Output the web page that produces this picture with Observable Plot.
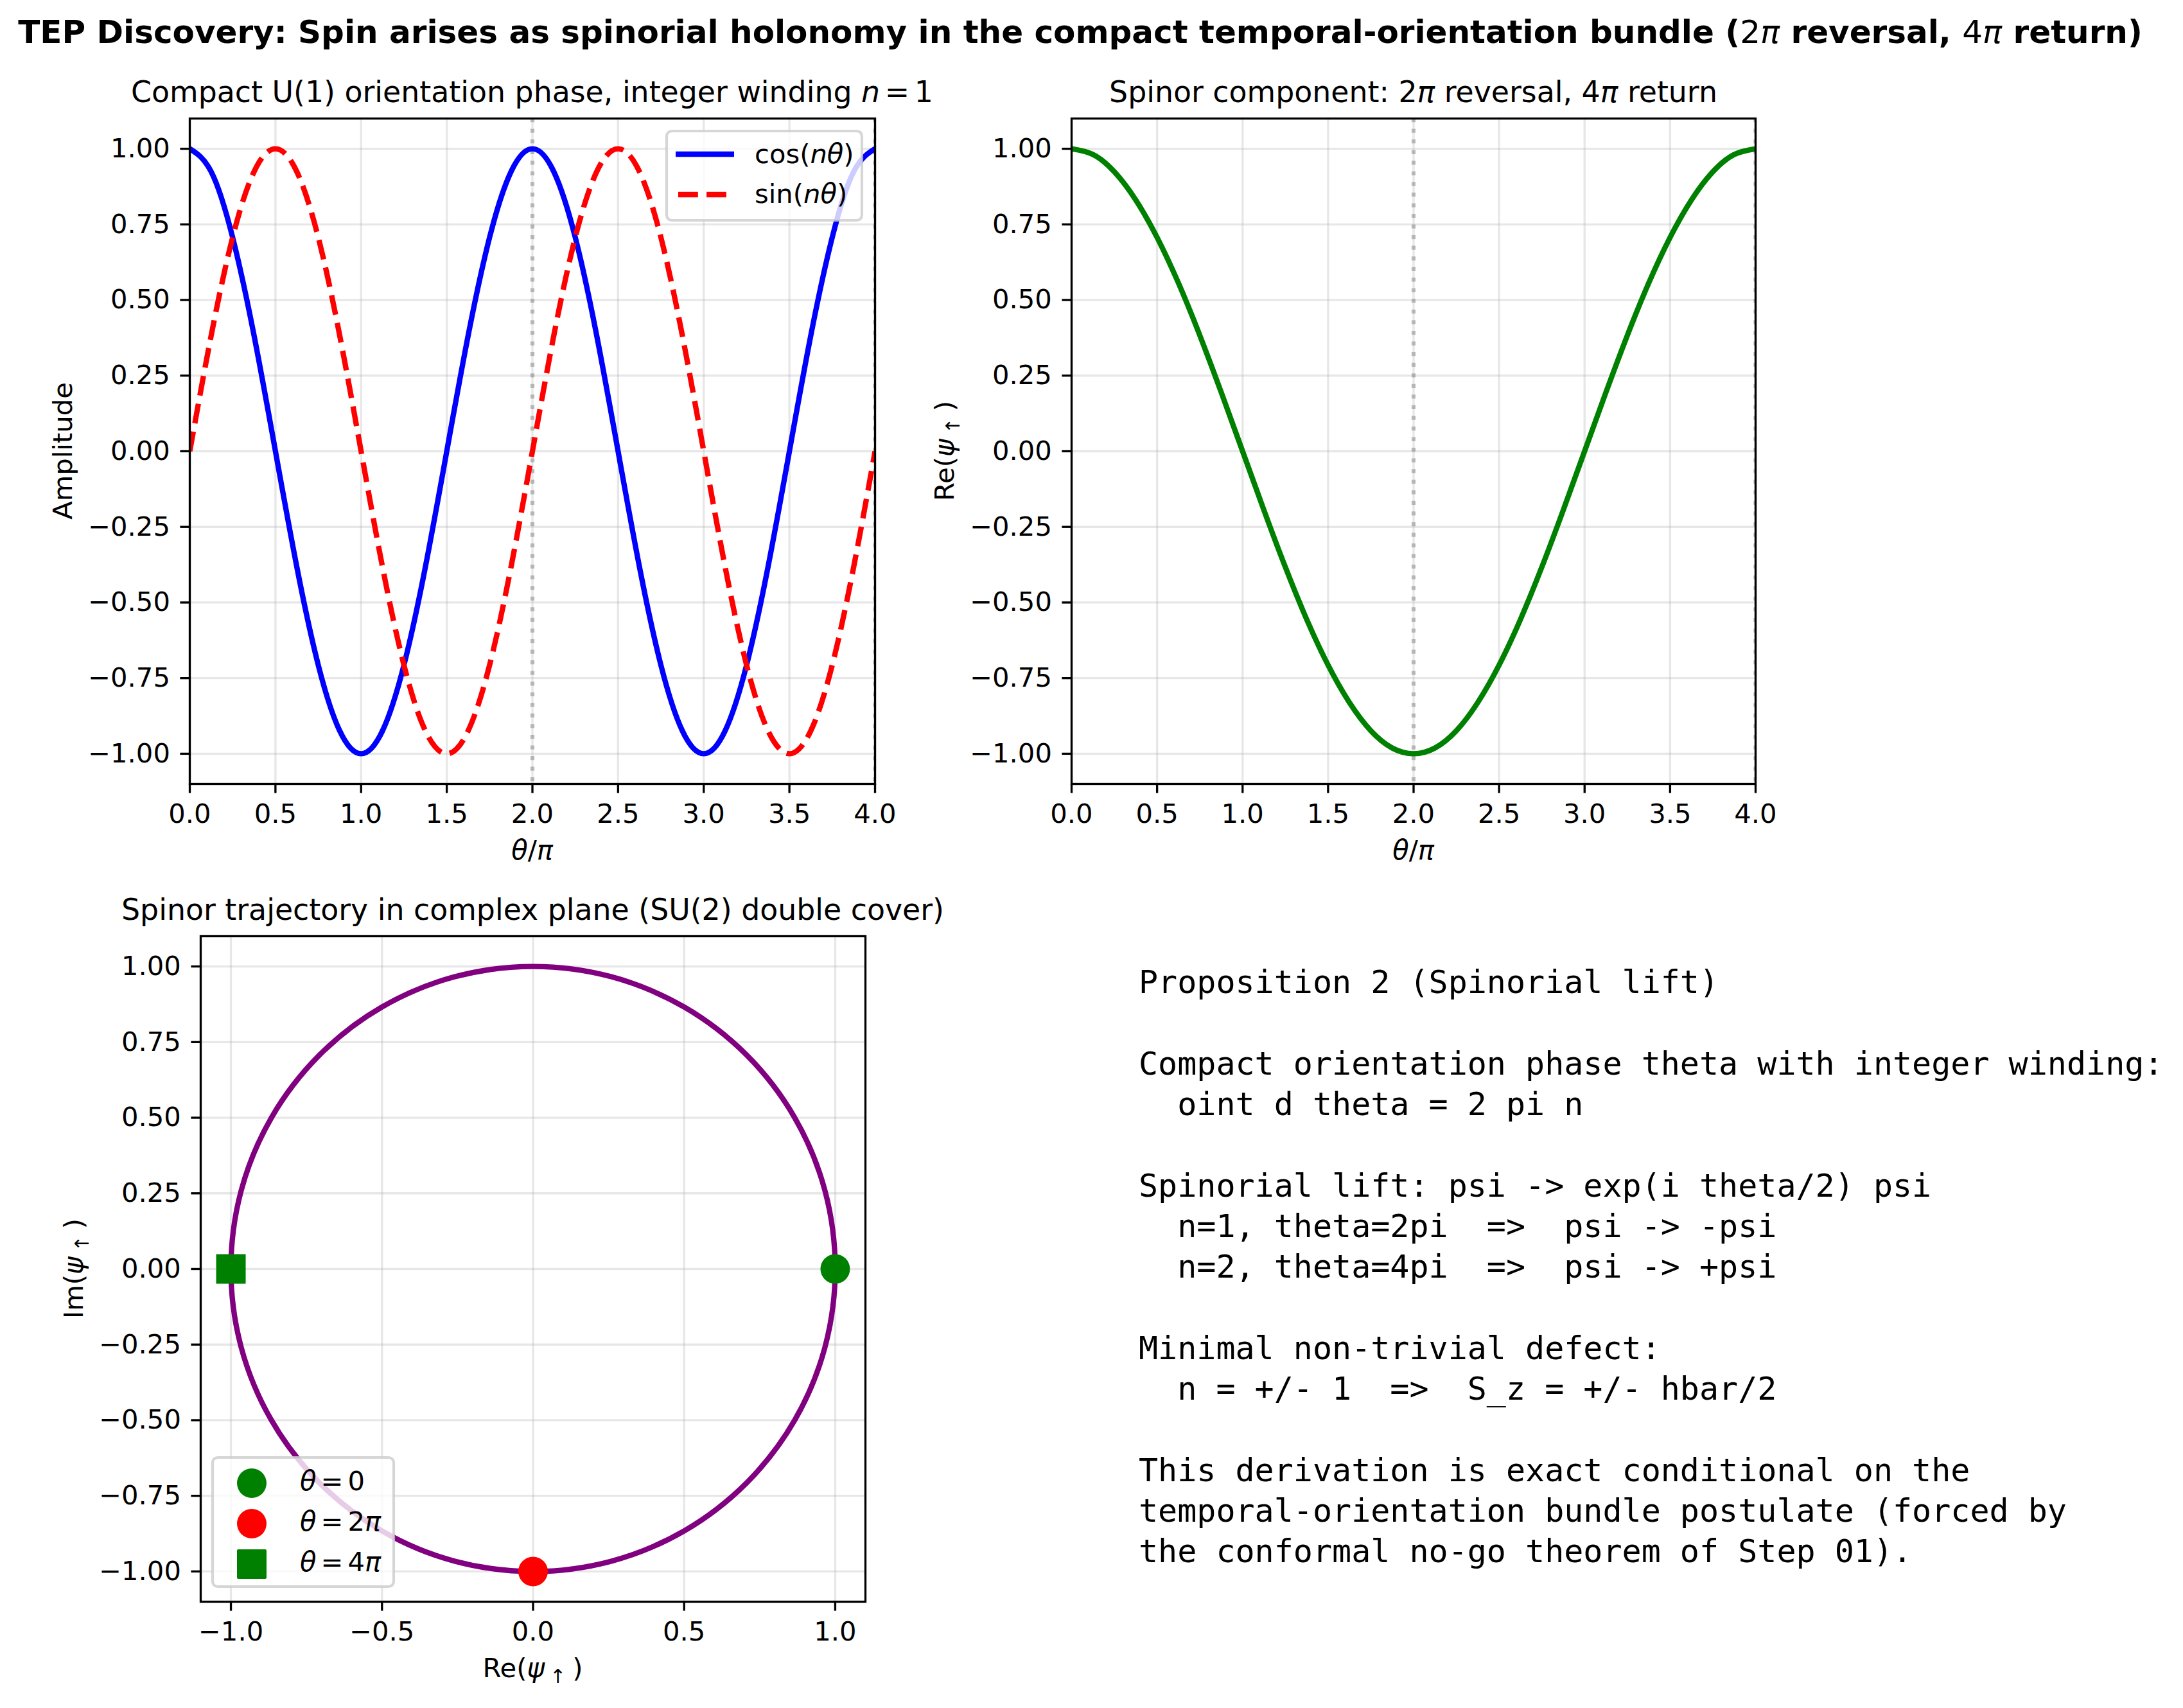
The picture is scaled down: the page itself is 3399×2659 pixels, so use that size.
<!DOCTYPE html>
<html>
<head>
<meta charset="utf-8">
<script src="https://cdn.jsdelivr.net/npm/d3@7"></script>
<script src="https://cdn.jsdelivr.net/npm/@observablehq/plot@0.6"></script>
<style>
html, body { margin: 0; padding: 0; background: #fff; }
#page { position: relative; width: 3399px; height: 2659px; background: #fff; overflow: hidden; }
#page svg { position: absolute; }
</style>
</head>
<body>
<div id="page"></div>
<script>
// ---------------- data ----------------
const thetaOverPi = [0, 0.125, 0.25, 0.375, 0.5, 0.625, 0.75, 0.875, 1, 1.125, 1.25, 1.375, 1.5, 1.625, 1.75, 1.875,
  2, 2.125, 2.25, 2.375, 2.5, 2.625, 2.75, 2.875, 3, 3.125, 3.25, 3.375, 3.5, 3.625, 3.75, 3.875, 4];
const cosNTheta = [1, 0.924, 0.707, 0.383, 0, -0.383, -0.707, -0.924, -1, -0.924, -0.707, -0.383, 0, 0.383, 0.707, 0.924,
  1, 0.924, 0.707, 0.383, 0, -0.383, -0.707, -0.924, -1, -0.924, -0.707, -0.383, 0, 0.383, 0.707, 0.924, 1];
const sinNTheta = [0, 0.383, 0.707, 0.924, 1, 0.924, 0.707, 0.383, 0, -0.383, -0.707, -0.924, -1, -0.924, -0.707, -0.383,
  0, 0.383, 0.707, 0.924, 1, 0.924, 0.707, 0.383, 0, -0.383, -0.707, -0.924, -1, -0.924, -0.707, -0.383, 0];
const spinorRe = [1, 0.981, 0.924, 0.831, 0.707, 0.556, 0.383, 0.195, 0, -0.195, -0.383, -0.556, -0.707, -0.831, -0.924, -0.981,
  -1, -0.981, -0.924, -0.831, -0.707, -0.556, -0.383, -0.195, 0, 0.195, 0.383, 0.556, 0.707, 0.831, 0.924, 0.981, 1];
const trajRe = [1, 0.966, 0.866, 0.707, 0.5, 0.259, 0, -0.259, -0.5, -0.707, -0.866, -0.966,
  -1, -0.966, -0.866, -0.707, -0.5, -0.259, 0, 0.259, 0.5, 0.707, 0.866, 0.966];
const trajIm = [0, 0.259, 0.5, 0.707, 0.866, 0.966, 1, 0.966, 0.866, 0.707, 0.5, 0.259,
  0, -0.259, -0.5, -0.707, -0.866, -0.966, -1, -0.966, -0.866, -0.707, -0.5, -0.259];
const markerRe = [1, 0, -1];
const markerIm = [0, -1, 0];
const markerColors = ["green", "red", "green"];
const markerShapes = ["circle", "circle", "square"];
const markerLabelValues = ["0", "2", "4"];
const markerLabelPi = [false, true, true];
const holonomyLines = [2, 4];
const thetaTicks = [0, 0.5, 1, 1.5, 2, 2.5, 3, 3.5, 4];
const ampTicks = [-1, -0.75, -0.5, -0.25, 0, 0.25, 0.5, 0.75, 1];
const reTicks = [-1, -0.5, 0, 0.5, 1];
const textLines = [
  "Proposition 2 (Spinorial lift)",
  "",
  "Compact orientation phase theta with integer winding:",
  "  oint d theta = 2 pi n",
  "",
  "Spinorial lift: psi -> exp(i theta/2) psi",
  "  n=1, theta=2pi  =>  psi -> -psi",
  "  n=2, theta=4pi  =>  psi -> +psi",
  "",
  "Minimal non-trivial defect:",
  "  n = +/- 1  =>  S_z = +/- hbar/2",
  "",
  "This derivation is exact conditional on the",
  "temporal-orientation bundle postulate (forced by",
  "the conformal no-go theorem of Step 01)."
];

// ---------------- styling constants ----------------
const LW = 8.33, SPINE = 3.33, FS = 41.7;
const TS = "\u2006"; // thin math space
const gridStyle = {stroke: "#b0b0b0", strokeOpacity: 0.3, strokeWidth: SPINE};
const page = document.getElementById("page");

function panel({left, top, w, h, xDomain, xTicks, xFormat, marks}) {
  const mL = 200, mT = 30, mR = 40, mB = 90;
  const svg = Plot.plot({
    width: mL + w + mR, height: mT + h + mB,
    marginLeft: mL, marginTop: mT, marginRight: mR, marginBottom: mB,
    x: {domain: xDomain},
    y: {domain: [-1.1, 1.1]},
    style: {position: "absolute", left: (left - mL) + "px", top: (top - mT) + "px",
      fontFamily: "DejaVu Sans", fontSize: FS + "px", color: "black",
      background: "transparent", overflow: "visible", maxWidth: "none"},
    marks: [
      Plot.gridX(xTicks, gridStyle),
      Plot.gridY(ampTicks, gridStyle),
      ...marks,
      Plot.frame({stroke: "black", strokeWidth: SPINE}),
      Plot.axisX(xTicks, {tickFormat: d3.format(xFormat), tickSize: 14.6, tickPadding: 16, strokeWidth: SPINE, label: null}),
      Plot.axisY(ampTicks, {tickFormat: d3.format(".2f"), tickSize: 14.6, tickPadding: 16, strokeWidth: SPINE, label: null})
    ]
  });
  page.appendChild(svg);
}

const ruleStyle = {stroke: "gray", strokeOpacity: 0.5, strokeWidth: 6.25, strokeDasharray: "6.25,10.3", clip: true};

// Top-left: cos / sin
panel({
  left: 295, top: 184, w: 1067, h: 1036, xDomain: [0, 4], xTicks: thetaTicks, xFormat: ".1f",
  marks: [
    Plot.ruleX(holonomyLines, ruleStyle),
    Plot.line(thetaOverPi, {x: d => d, y: (d, i) => cosNTheta[i], stroke: "blue", strokeWidth: LW, curve: "natural", clip: true}),
    Plot.line(thetaOverPi, {x: d => d, y: (d, i) => sinNTheta[i], stroke: "red", strokeWidth: LW, curve: "natural",
      strokeDasharray: "30.8,13.3", strokeLinecap: "butt", clip: true})
  ]
});

// Top-right: spinor component
panel({
  left: 1668, top: 184, w: 1065, h: 1036, xDomain: [0, 4], xTicks: thetaTicks, xFormat: ".1f",
  marks: [
    Plot.ruleX(holonomyLines, ruleStyle),
    Plot.line(thetaOverPi, {x: d => d, y: (d, i) => spinorRe[i], stroke: "green", strokeWidth: LW, curve: "natural", clip: true})
  ]
});

// Bottom-left: trajectory
panel({
  left: 312, top: 1457, w: 1035, h: 1036, xDomain: [-1.1, 1.1], xTicks: reTicks, xFormat: ".1f",
  marks: [
    Plot.line(trajRe, {x: d => d, y: (d, i) => trajIm[i], stroke: "purple", strokeWidth: LW, curve: "catmull-rom-closed"}),
    ...markerRe.map((re, i) => Plot.dot([i], {
      x: j => markerRe[j], y: j => markerIm[j], fill: markerColors[i], stroke: "none",
      symbol: markerShapes[i], r: markerShapes[i] === "square" ? 25.95 : 23
    }))
  ]
});

// ---------------- overlay text, legends ----------------
const overlay = d3.select(page).append("svg")
  .attr("width", 3399).attr("height", 2659)
  .style("left", "0px").style("top", "0px");

function txt(x, y, parts, o = {}) {
  const size = o.size || FS;
  const t = overlay.append("text")
    .attr("transform", `translate(${x},${y})` + (o.rotate ? ` rotate(${o.rotate})` : ""))
    .attr("text-anchor", o.anchor || "start")
    .attr("font-family", o.family || "DejaVu Sans")
    .attr("font-size", size)
    .attr("font-weight", o.weight || "normal")
    .attr("fill", "black")
    .style("white-space", "pre");
  for (const p of parts) {
    const [s, st] = typeof p === "string" ? [p, {}] : p;
    const ts = t.append("tspan").text(s);
    if (st.italic) ts.attr("font-style", "italic");
    if (st.weight) ts.attr("font-weight", st.weight);
    if (st.scale) ts.attr("font-size", size * st.scale);
    if (st.dy) ts.attr("dy", st.dy);
    if (st.dx) ts.attr("dx", st.dx);
  }
  return t;
}
const I = s => [s, {italic: true}];
const psiUp = [I("ψ"), ["↑", {scale: 0.72, dy: 9, dx: 8}], [")", {dy: -9, dx: 10}]];

// suptitle
txt(1682, 67, [
  "TEP Discovery: Spin arises as spinorial holonomy in the compact temporal-orientation bundle (",
  ["2", {weight: "normal"}], ["π", {weight: "normal", italic: true}], " reversal, ",
  ["4", {weight: "normal"}], ["π", {weight: "normal", italic: true}], " return)"
], {anchor: "middle", weight: "bold", size: 50});

// panel titles
txt(828.5, 159, ["Compact U(1) orientation phase, integer winding ", I("n"), TS + "=" + TS + "1"], {anchor: "middle", size: 45.8});
txt(2200.5, 159, ["Spinor component: 2", I("π"), " reversal, 4", I("π"), " return"], {anchor: "middle", size: 45.8});
txt(829.5, 1432, ["Spinor trajectory in complex plane (SU(2) double cover)"], {anchor: "middle", size: 45.8});

// axis labels
txt(828.5, 1338, [I("θ"), "/", I("π")], {anchor: "middle"});
txt(2200.5, 1338, [I("θ"), "/", I("π")], {anchor: "middle"});
txt(829.5, 2611, ["Re(", ...psiUp], {anchor: "middle"});
txt(111.5, 702, ["Amplitude"], {anchor: "middle", rotate: -90});
txt(1484.5, 702, ["Re(", ...psiUp], {anchor: "middle", rotate: -90});
txt(128.5, 1975, ["Im(", ...psiUp], {anchor: "middle", rotate: -90});

// legend: top-left
overlay.append("rect").attr("x", 1038).attr("y", 204).attr("width", 304).attr("height", 139).attr("rx", 8)
  .attr("fill", "white").attr("fill-opacity", 0.8).attr("stroke", "#cccccc").attr("stroke-opacity", 0.8).attr("stroke-width", 4.17);
overlay.append("line").attr("x1", 1052).attr("x2", 1143).attr("y1", 240).attr("y2", 240)
  .attr("stroke", "blue").attr("stroke-width", LW);
overlay.append("line").attr("x1", 1056).attr("x2", 1143).attr("y1", 303).attr("y2", 303)
  .attr("stroke", "red").attr("stroke-width", LW).attr("stroke-dasharray", "30.8,13.3");
txt(1175, 253.5, ["cos(", I("nθ"), ")"]);
txt(1175, 316, ["sin(", I("nθ"), ")"]);

// legend: bottom-left
overlay.append("rect").attr("x", 331).attr("y", 2269).attr("width", 282).attr("height", 201).attr("rx", 8)
  .attr("fill", "white").attr("fill-opacity", 0.8).attr("stroke", "#cccccc").attr("stroke-opacity", 0.8).attr("stroke-width", 4.17);
markerColors.forEach((c, i) => {
  const cy = 2309 + i * 63;
  if (markerShapes[i] === "square") {
    overlay.append("rect").attr("x", 369).attr("y", cy - 23).attr("width", 46).attr("height", 46).attr("rx", 2).attr("fill", c);
  } else {
    overlay.append("circle").attr("cx", 392).attr("cy", cy).attr("r", 23).attr("fill", c);
  }
  const parts = [I("θ"), TS + "=" + TS, markerLabelValues[i]];
  if (markerLabelPi[i]) parts.push(I("π"));
  txt(467, cy + 11, parts);
});

// text block
textLines.forEach((line, k) => {
  if (line) txt(1773, 1546 + 63.3 * k, [line], {family: "DejaVu Sans Mono", size: 50});
});
</script>
</body>
</html>
